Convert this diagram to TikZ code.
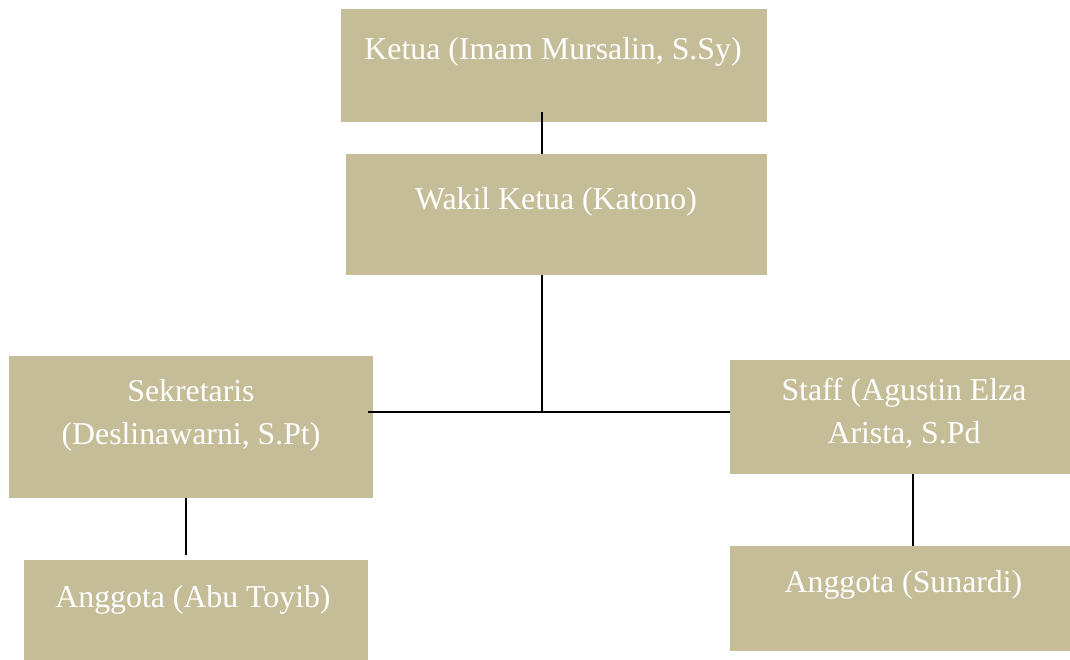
\documentclass[tikz,border=0pt]{standalone}
\usepackage{fontspec}
\setmainfont{Liberation Serif}
\usetikzlibrary{positioning}
\definecolor{tan}{HTML}{C4BD97}

\begin{document}
\begin{tikzpicture}[x=1pt,y=-1pt,
    kotak/.style={rectangle, fill=tan, inner sep=0pt},
    teks/.style={text=white, anchor=base, align=center, inner sep=0pt,
        font=\fontsize{31.8}{43}\selectfont},
    garis/.style={line width=2pt, color=black}]
    \useasboundingbox (0,0) rectangle (1070,660);

    % kotak
    \node[kotak, minimum width=426pt, minimum height=113pt] (ketua) at (554,65.5) {};
    \node[kotak, minimum width=421pt, minimum height=121pt] (wakil) at (556.5,214.5) {};
    \node[kotak, minimum width=364pt, minimum height=142pt] (sekre) at (191,427) {};
    \node[kotak, minimum width=340pt, minimum height=114pt] (staff) at (900,417) {};
    \node[kotak, minimum width=344pt, minimum height=100pt] (ang1) at (196,610) {};
    \node[kotak, minimum width=340pt, minimum height=105pt] (ang2) at (900,598.5) {};

    % teks (base = baseline of the last line)
    \node[teks] (ketua-t) at (553,60) {Ketua (Imam Mursalin, S.Sy)};
    \node[teks] (wakil-t) at (556,210) {Wakil Ketua (Katono)};
    \node[teks] (sekre-t) at (191,444) {Sekretaris\\(Deslinawarni, S.Pt)};
    \node[teks] (staff-t) at (904,443) {Staff (Agustin Elza\\Arista, S.Pd};
    \node[teks] (ang1-t) at (193,607) {Anggota (Abu Toyib)};
    \node[teks] (ang2-t) at (903.5,592) {Anggota (Sunardi)};

    % garis
    \coordinate (k1) at (542,112);
    \coordinate (j) at (542,412);
    \coordinate (s1) at (368,412);
    \coordinate (s2) at (186,498);
    \coordinate (t2) at (913,474);
    \draw[garis] (k1) -- (k1 |- wakil.north);
    \draw[garis] (wakil.south -| j) -- (j);
    \draw[garis] (s1) -- (staff.west |- j);
    \draw[garis] (s2) -- (s2 |- 0,555);
    \draw[garis] (t2) -- (t2 |- ang2.north);
\end{tikzpicture}
\end{document}
